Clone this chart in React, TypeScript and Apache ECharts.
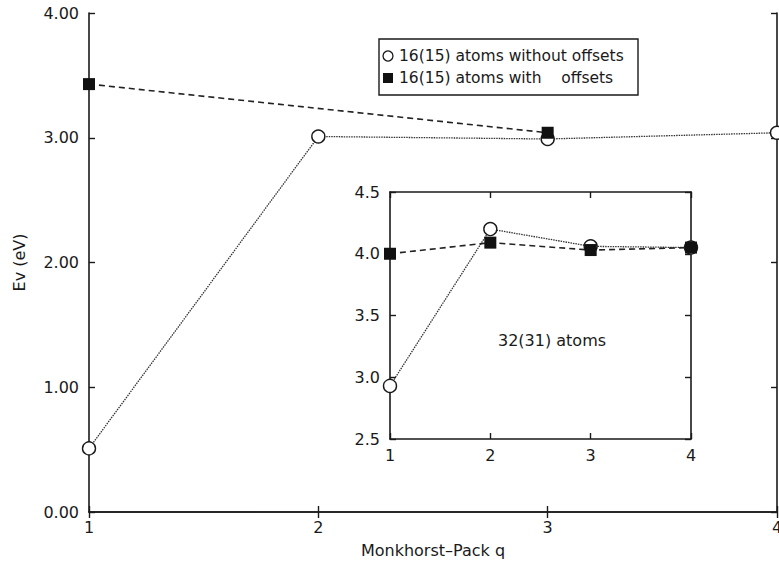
import React, { useEffect, useRef } from "react";
import * as echarts from "echarts";

const qValues = [1, 2, 3, 4];
const mainNoOffsets = [0.51, 3.01, 2.99, 3.04];
const mainOffsetsQ = [1, 3];
const mainWithOffsets = [3.43, 3.04];
const insetNoOffsets = [2.93, 4.2, 4.06, 4.05];
const insetWithOffsets = [4.0, 4.09, 4.03, 4.05];

const mainYTicks = { min: 0, max: 4, interval: 1 };
const insetYTicks = { min: 2.5, max: 4.5, interval: 0.5 };

const legendLabels = ["16(15) atoms without offsets", "16(15) atoms with\u00a0\u00a0\u00a0\u00a0offsets"];
const insetLabel = "32(31) atoms";

const FONT = "'DejaVu Sans', sans-serif";
const INK = "#1a1a1a";

export default function App() {
  const ref = useRef<HTMLDivElement>(null);
  useEffect(() => {
    if (!ref.current) return;
    const chart = echarts.init(ref.current, undefined, { renderer: "svg" });
    const axisLine = { show: true, lineStyle: { color: INK, width: 1.6 } };
    const tick = { show: true, inside: true, length: 6, lineStyle: { color: INK, width: 1.4 } };
    const label = { color: INK, fontFamily: FONT, fontSize: 16 };
    const mkX = (grid: number, pos: "bottom" | "top", show: boolean, margin: number, extra: any = {}) => ({
      type: "value",
      gridIndex: grid,
      position: pos,
      min: 1,
      max: 4,
      interval: 1,
      axisLine,
      axisTick: tick,
      splitLine: { show: false },
      axisLabel: { ...label, show, margin },
      ...extra,
    });
    const mkY = (grid: number, pos: "left" | "right", show: boolean, t: any, fmt: (v: number) => string, extra: any = {}) => ({
      type: "value",
      gridIndex: grid,
      position: pos,
      min: t.min,
      max: t.max,
      interval: t.interval,
      axisLine,
      axisTick: tick,
      splitLine: { show: false },
      axisLabel: { ...label, show, margin: 10, formatter: fmt },
      ...extra,
    });
    const circleStyle = { color: "#fff", borderColor: INK, borderWidth: 1.4 };
    const squareStyle = { color: "#111", borderColor: "#111", borderWidth: 0 };
    const dotted = { color: "#333", width: 1.3, type: [1.5, 1] };
    const dashed = { color: "#222", width: 1.6, type: [6, 4] };
    chart.setOption({
      animation: false,
      backgroundColor: "#fff",
      grid: [
        { left: 89, top: 13, width: 688, height: 499, outerBoundsMode: "none", containLabel: false },
        {
          left: 390,
          top: 192,
          width: 301,
          height: 247,
          show: true,
          backgroundColor: "#fff",
          borderWidth: 0,
          outerBoundsMode: "none",
          containLabel: false,
        },
      ],
      xAxis: [
        mkX(0, "bottom", true, 7, {
          name: "Monkhorst\u2013Pack q",
          nameLocation: "middle",
          nameGap: 30,
          nameTextStyle: { color: INK, fontFamily: FONT, fontSize: 16 },
        }),
        mkX(0, "top", false, 8),
        mkX(1, "bottom", true, 8),
        mkX(1, "top", false, 8),
      ],
      yAxis: [
        mkY(0, "left", true, mainYTicks, (v) => v.toFixed(2), {
          name: "Ev (eV)",
          nameLocation: "middle",
          nameGap: 62,
          nameRotate: 90,
          nameTextStyle: { color: INK, fontFamily: FONT, fontSize: 16 },
        }),
        mkY(0, "right", false, mainYTicks, (v) => v.toFixed(2)),
        mkY(1, "left", true, insetYTicks, (v) => v.toFixed(1)),
        mkY(1, "right", false, insetYTicks, (v) => v.toFixed(1)),
      ],
      series: [
        {
          type: "line",
          xAxisIndex: 0,
          yAxisIndex: 0,
          data: qValues.map((q, i) => [q, mainNoOffsets[i]]),
          symbol: "circle",
          symbolSize: 13,
          itemStyle: circleStyle,
          lineStyle: dotted,
          z: 3,
        },
        {
          type: "line",
          xAxisIndex: 0,
          yAxisIndex: 0,
          data: mainOffsetsQ.map((q, i) => [q, mainWithOffsets[i]]),
          symbol: "rect",
          symbolSize: 12,
          itemStyle: squareStyle,
          lineStyle: dashed,
          z: 4,
        },
        {
          type: "line",
          xAxisIndex: 2,
          yAxisIndex: 2,
          data: qValues.map((q, i) => [q, insetNoOffsets[i]]),
          symbol: "circle",
          symbolSize: 13,
          itemStyle: circleStyle,
          lineStyle: dotted,
          z: 3,
        },
        {
          type: "line",
          xAxisIndex: 2,
          yAxisIndex: 2,
          data: qValues.map((q, i) => [q, insetWithOffsets[i]]),
          symbol: "rect",
          symbolSize: 12,
          itemStyle: squareStyle,
          lineStyle: dashed,
          z: 4,
        },
      ],
      graphic: [
        {
          type: "rect",
          shape: { x: 379, y: 39, width: 259, height: 56 },
          style: { fill: "#fff", stroke: INK, lineWidth: 1.4 },
          z: 10,
        },
        {
          type: "circle",
          shape: { cx: 388, cy: 56, r: 5 },
          style: { fill: "#fff", stroke: INK, lineWidth: 1.3 },
          z: 11,
        },
        {
          type: "rect",
          shape: { x: 383, y: 73, width: 10, height: 10 },
          style: { fill: "#111" },
          z: 11,
        },
        {
          type: "text",
          x: 399,
          y: 56,
          style: { text: legendLabels[0], fill: INK, font: `15.5px ${FONT}`, verticalAlign: "middle" },
          z: 11,
        },
        {
          type: "text",
          x: 399,
          y: 78,
          style: { text: legendLabels[1], fill: INK, font: `15.5px ${FONT}`, verticalAlign: "middle" },
          z: 11,
        },
        {
          type: "text",
          x: 552,
          y: 340,
          style: { text: insetLabel, fill: INK, font: `16px ${FONT}`, align: "center", verticalAlign: "middle" },
          z: 11,
        },
      ],
    });
    return () => chart.dispose();
  }, []);
  return <div ref={ref} style={{ position: "absolute", left: 0, top: 0, width: 779, height: 561 }} />;
}
